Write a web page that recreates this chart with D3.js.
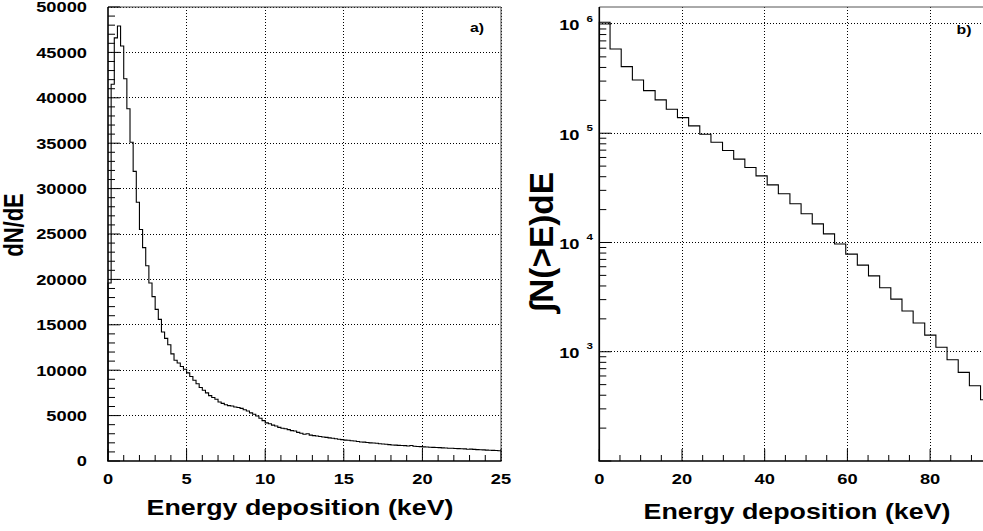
<!DOCTYPE html>
<html><head><meta charset="utf-8">
<script src="https://cdn.jsdelivr.net/npm/d3@7"></script>
<style>body{margin:0;background:#fff} svg{display:block}</style>
</head><body>
<script>
// ---------- data ----------
const leftBinWidth = 0.2; // keV per bin, 0..25 keV
const leftCounts = [
  19600, 41500, 46600, 47900, 45700, 42100, 38800, 35100, 31900, 28500,
  25500, 23500, 21500, 19600, 18100, 16700, 15600, 14200, 13500, 12800,
  11800, 11100, 10800, 10400, 10100, 9700, 9300, 8900, 8500, 8100,
  7800, 7500, 7200, 7000, 6800, 6500, 6350, 6200, 6100, 6050,
  5950, 5900, 5800, 5650, 5500, 5300, 5150, 4950, 4700, 4450,
  4200, 4100, 3950, 3850, 3700, 3600, 3550, 3450, 3350, 3300,
  3150, 3050, 2950, 3000, 2850, 2800, 2750, 2700, 2650, 2600,
  2550, 2500, 2450, 2400, 2350, 2300, 2280, 2230, 2200, 2150,
  2100, 2080, 2030, 2000, 1980, 1950, 1900, 1880, 1850, 1800,
  1770, 1750, 1720, 1700, 1690, 1650, 1700, 1620, 1600, 1580,
  1560, 1550, 1520, 1500, 1490, 1470, 1450, 1430, 1410, 1400,
  1380, 1360, 1350, 1330, 1300, 1310, 1280, 1250, 1240, 1220,
  1200, 1180, 1170, 1150, 1130
];
const rightEdges = [0, 2.6, 5.3, 8.0, 10.7, 13.5, 16.2, 18.9, 21.6, 24.3, 27.0, 29.8,
  32.5, 35.2, 37.9, 40.6, 43.3, 46.1, 48.8, 51.5, 54.2, 56.9, 59.6, 62.4, 65.1,
  67.8, 70.5, 73.2, 75.9, 78.7, 81.4, 84.1, 86.8, 89.5, 92.2, 95.0];
const rightValues = [1.036e6, 5.91e5, 4.07e5, 3.07e5, 2.455e5, 2.02e5, 1.659e5, 1.39e5,
  1.167e5, 9.8e4, 8.28e4, 6.94e4, 5.79e4, 4.85e4, 4.07e4, 3.37e4, 2.79e4, 2.26e4,
  1.83e4, 1.48e4, 1.2e4, 9.7e3, 7.83e3, 6.21e3, 4.95e3, 3.85e3, 3.03e3, 2.36e3,
  1.83e3, 1.42e3, 1.1e3, 845, 647, 489, 364];
const leftYTicks = [0, 5000, 10000, 15000, 20000, 25000, 30000, 35000, 40000, 45000, 50000];
const leftXTicks = [0, 5, 10, 15, 20, 25];
const rightXTicks = [0, 20, 40, 60, 80];
const rightYExps = [3, 4, 5, 6];
const xTitle = "Energy deposition (keV)";
const leftYTitle = "dN/dE";
const rightYTitle = "\u222BN(>E)dE";

// ---------- drawing ----------
const W = 983, H = 531;
const FONT = "'Liberation Sans', Arial, Helvetica, sans-serif";
const SX = 1.22;
const svg = d3.select("body").append("svg").attr("width", W).attr("height", H);

function stext(g, x, y, str, size, anchor, rot) {
  const t = g.append("text")
    .attr("transform", rot ? `translate(${x},${y}) rotate(-90) scale(1,${SX})`
                           : `translate(${x},${y}) scale(${SX},1)`)
    .attr("text-anchor", anchor)
    .attr("font-family", FONT).attr("font-weight", "bold")
    .attr("font-size", size).attr("fill", "#000").text(str);
  return t;
}
function gridLine(g, x1, y1, x2, y2) {
  g.append("line").attr("x1", x1).attr("y1", y1).attr("x2", x2).attr("y2", y2)
    .attr("stroke", "#000").attr("stroke-width", 1).attr("stroke-dasharray", "1,2")
    .attr("shape-rendering", "crispEdges");
}
function solid(g, x1, y1, x2, y2, w, c) {
  g.append("line").attr("x1", x1).attr("y1", y1).attr("x2", x2).attr("y2", y2)
    .attr("stroke", c || "#000").attr("stroke-width", w || 1);
}

// ===== Left panel =====
const gL = svg.append("g");
const xL = d3.scaleLinear().domain([0, 25]).range([108, 501]);
const yL = d3.scaleLinear().domain([0, 50000]).range([461, 7]);

leftYTicks.filter(v => v > 0).forEach(v => gridLine(gL, xL(0), yL(v), xL(25), yL(v)));
leftXTicks.filter(v => v > 0).forEach(v => gridLine(gL, xL(v), yL(0), xL(v), yL(50000)));
solid(gL, xL(0), yL(50000), xL(25), yL(50000), 1, "#444");
solid(gL, xL(25), yL(50000), xL(25), yL(0), 1, "#444");

// histogram
const lp = d3.path();
lp.moveTo(xL(0), yL(0));
leftCounts.forEach((v, i) => {
  lp.lineTo(xL(i * leftBinWidth), yL(v));
  lp.lineTo(xL((i + 1) * leftBinWidth), yL(v));
});
gL.append("path").attr("d", lp.toString()).attr("fill", "none")
  .attr("stroke", "#000").attr("stroke-width", 1.1);

// axes
solid(gL, xL(0), yL(0), xL(0), yL(50000), 1.6);
solid(gL, xL(0) - 0.8, yL(0), xL(25) + 0.5, yL(0), 1.6);
yL.ticks(50).forEach(v => {
  const major = v % 5000 === 0;
  solid(gL, xL(0), yL(v), xL(0) + (major ? 12 : 7), yL(v), 1);
});
xL.ticks(25).forEach(v => {
  const major = v % 5 === 0;
  solid(gL, xL(v), yL(0), xL(v), yL(0) - (major ? 12 : 6), 1);
});
leftYTicks.forEach(v => stext(gL, 87, yL(v) + 5.4, String(v), 15, "end"));
leftXTicks.forEach(v => stext(gL, xL(v), 483.5, String(v), 15, "middle"));
stext(gL, 300, 515, xTitle, 22, "middle");
stext(gL, 23, 225, leftYTitle, 22, "middle", true);
stext(gL, 484, 31.5, "a)", 13, "end");

// ===== Right panel =====
const gR = svg.append("g");
const xR = d3.scaleLinear().domain([0, 100]).range([599.3, 1012.8]);
const yR = d3.scaleLog().domain([100, 1.43e6]).range([461, 7]);

rightYExps.forEach(e => gridLine(gR, xR(0), yR(Math.pow(10, e)), xR(100), yR(Math.pow(10, e))));
rightXTicks.filter(v => v > 0).forEach(v => gridLine(gR, xR(v), yR(100), xR(v), yR(1.43e6)));
solid(gR, xR(0), yR(1.43e6), xR(100), yR(1.43e6), 1, "#555");

const rp = d3.path();
rp.moveTo(xR(0), yR(100));
rightValues.forEach((v, i) => {
  rp.lineTo(xR(rightEdges[i]), yR(v));
  rp.lineTo(xR(rightEdges[i + 1]), yR(v));
});
gR.append("path").attr("d", rp.toString()).attr("fill", "none")
  .attr("stroke", "#000").attr("stroke-width", 1.1);

solid(gR, xR(0), yR(100), xR(0), yR(1.43e6), 1.6);
solid(gR, xR(0) - 0.8, yR(100), xR(100), yR(100), 1.6);
for (let e = 2; e <= 6; e++) {
  for (let m = 1; m <= 9; m++) {
    const v = m * Math.pow(10, e);
    if (v < 100 || v > 1.43e6) continue;
    solid(gR, xR(0), yR(v), xR(0) + (m === 1 ? 12 : 7), yR(v), 1);
  }
}
xR.ticks(20).forEach(v => {
  const major = v % 20 === 0;
  solid(gR, xR(v), yR(100), xR(v), yR(100) - (major ? 12 : 6), 1);
});
rightYExps.forEach(e => {
  const y = yR(Math.pow(10, e));
  stext(gR, 579.5, y + 6.4, "10", 15, "end");
  stext(gR, 586.5, y - 2.3, String(e), 9.5, "start");
});
rightXTicks.forEach(v => stext(gR, xR(v), 483.5, String(v), 15, "middle"));
stext(gR, 797, 519, xTitle, 22, "middle");
stext(gR, 553, 242, rightYTitle, 27, "middle", true)
  .attr("textLength", 140).attr("lengthAdjust", "spacingAndGlyphs");
stext(gR, 971.5, 33.5, "b)", 13, "end");
</script>
</body></html>
